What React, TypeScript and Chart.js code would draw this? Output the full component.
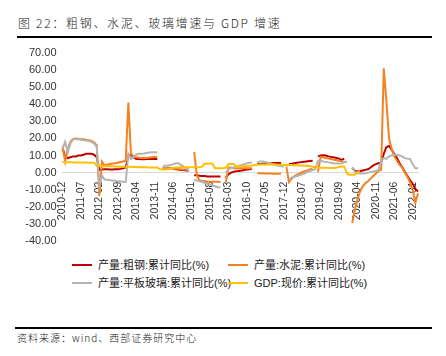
import React, { useEffect, useRef } from 'react';
import { Chart, registerables } from 'chart.js';

Chart.register(...registerables);

// Monthly categories 2010-12 .. 2022-03
const months: string[] = [];
for (let i = 0; i < 136; i++) {
  const y = 2010 + Math.floor((11 + i) / 12);
  const m = ((11 + i) % 12) + 1;
  months.push(`${y}-${String(m).padStart(2, '0')}`);
}
const labelEvery = 7;

const yTicks = [70, 60, 50, 40, 30, 20, 10, 0, -10, -20, -30, -40];

// 产量:粗钢:累计同比(%)
const steel: (number | null)[] = [
  14.5, 9.5, 8.5, 9, 9.5, 9.5, 10, 10, 10.5, 11, 11, 11,
  10.5, 9, 1.5, 1.8, 2, 2, 1.8, 1.8, 2, 2, 2.2, 2.5,
  3, 10, 10.5, 9, 8, 8, 7.8, 7.8, 8, 8, 8, 8,
  8, null, 2.5, 2.2, 2.5, 2.5, 2.5, 2, 1.8, 1.5, 1.5, 1.3,
  1.2, null, -1.5, -1.5, -1.8, -2, -2, -2.2, -2.2, -2.3, -2.3, -2.3,
  -2.3, null, -3, -1, 0, 0.5, 0.8, 1, 1.2, 1.5, 1.8, 2,
  2.2, null, 5, 5, 5.2, 5.5, 5.5, 5.5, 5.6, 5.7, 5.7, 5.7,
  null, null, 5, 5.2, 5.5, 5.8, 6, 6.2, 6.4, 6.6, 6.8, 7,
  null, 9.5, 10, 10.2, 10, 9.5, 9.2, 9, 8.6, 8.2, 7.5, 8.2,
  null, null, 2.8, 1.2, 0.6, 0.8, 1.2, 1.6, 2, 3, 4.2, 5,
  5.5, 6, 11, 15, 15.6, 13.5, 10.8, 8.5, 5.5, 3.2, 0.5, -2,
  -4.5, -6.5, -9.5, -11,
];

// 产量:水泥:累计同比(%)
const cement: (number | null)[] = [
  15.5, 6.5, 14, 18, 19.7, 20, 19.8, 19.5, 19.5, 19.2, 19, 18.5,
  17.8, 16, -13.5, 6.4, 4.2, 4.8, 5, 5.3, 5.5, 5.8, 6.2, 6.5,
  7, 41, 11, 9.5, 9, 8.8, 8.5, 8.5, 8.6, 8.8, 9, 9.2,
  9.3, null, 2.8, 2.6, 2.6, 2.5, 2.4, 2.3, 2.2, 2, 1.9, 1.8,
  1.8, null, 12, -1.5, -4.5, -4.8, -5, -5.2, -5.3, -5.3, -5.4, -5.4,
  -5.5, null, -5.7, 3, 2.8, 2.6, 2.5, 2.5, 2.6, 2.6, 2.5, 2.5,
  2.5, null, -0.3, -0.3, -0.4, -0.5, -0.5, -0.5, -0.6, -0.6, -0.6, -0.5,
  null, 3.5, -5.5, -3.5, -2.2, -1.2, -0.5, 0.2, 0.8, 1.3, 1.8, 2.3,
  null, 0.5, 9, 9, 8.5, 8.3, 8, 7.5, 7.3, 7, 6.6, 6.3,
  6, null, -29.5, -22, -16, -11, -8, -6.2, -5, -3.5, -2, -0.5,
  1, 1.6, 61, 42, 20, 14, 9.5, 7, 4.5, 3, 0, -2.5,
  -6, -10.5, -17.5, -12,
];

// 产量:平板玻璃:累计同比(%)
const glass: (number | null)[] = [
  14, 18, 12, 17, 19.5, 19.5, 19.5, 19.2, 19, 18.8, 18.5, 18,
  17, 15, -7.5, -2, -4, -4.2, -4.4, -4.6, -4.8, -5, -5.2, -5.4,
  -5.5, 11, 8, 9, 10.5, 11, 11, 11.2, 11.5, 11.8, 12, 12,
  12, null, 3, 4.2, 4, 4.5, 5, 5.5, 5.5, 4.5, 3.5, 2.5,
  1, null, -4.5, -4.5, -5, -5.5, -6, -6.5, -7, -7.5, -8, -8.5,
  -8.5, null, 0, 2, 2.5, 3, 3.5, 4, 4.5, 5, 5.5, 5.8,
  6, null, 6, 6.5, 6.5, 6.2, 5.8, 5.4, 5, 4.5, 4, 3.8,
  3.5, null, -4, -3, -2.5, -2, -1.5, -1, -0.5, 0.5, 1, 1.5,
  2, 7, 7, 6.5, 6.3, 6, 5.8, 5.5, 5.3, 5.3, 5.5, 6,
  6.5, null, 3, 0.5, -0.4, -0.5, -0.5, -0.3, 0, 0.3, 0.7, 1,
  1.5, 7, 8.5, 8, 9.5, 10, 10.5, 10.5, 10, 9.5, 8.5, 8.2,
  8, 5, 2.5, 2.5,
];

// GDP:现价:累计同比(%)
const gdp: (number | null)[] = [
  6.2, 6.2, 6.1, 6.1, 6.0, 6.0, 6.0, 5.9, 5.9, 5.9, 5.8, 5.8,
  5.8, 4.0, 3.9, 3.9, 3.8, 3.8, 3.7, 3.7, 3.6, 3.6, 3.5, 3.5,
  3.5, 3.4, 3.4, 3.3, 3.3, 3.2, 3.2, 3.1, 3.1, 3.0, 3.0, 3.0,
  3.0, 2.0, 1.8, 1.8, 2.0, 2.5, 2.8, 3.0, 3.0, 3.1, 3.1, 3.1,
  3.1, 3.2, 3.2, 3.2, 3.3, 3.5, 5.2, 5.4, 5.4, 5.2, 2.6, 2.5,
  2.5, 2.6, 2.8, 5.0, 5.1, 5.0, 3.6, 3.6, 3.7, 3.8, 3.9, 4.0,
  4.2, 4.5, 4.6, 4.7, 4.8, 4.8, 4.8, 4.8, 4.7, 4.7, 4.6, 4.6,
  4.5, 4.5, 4.4, 4.4, 4.3, 4.3, 4.2, 4.2, 4.1, 4.0, 3.8, 3.5,
  3.2, 3.0, 2.9, 2.8, 2.8, 2.7, 2.7, 2.7, 2.8, 3.5, 3.6, 3.6,
  -0.5, -1.2, -1.2, -1.2, 0.2, 0.2, null, null, null, null, null, null,
  null, null, null, null, null, null, null, null, null, null, null, null,
  null, null, null, null,
];

const seriesNames = ['产量:粗钢:累计同比(%)', '产量:水泥:累计同比(%)', '产量:平板玻璃:累计同比(%)', 'GDP:现价:累计同比(%)'];
const seriesColors = ['#C00000', '#F58220', '#B4B4B4', '#FFC000'];

const FONT = '"Liberation Sans", Arial, "Noto Sans CJK SC", sans-serif';
const CJK = '"Noto Sans CJK SC", sans-serif';

// Category labels drawn along the zero-line axis, positioned by the chart's own scales
const xLabelPlugin = {
  id: 'xLabelsAtZero',
  beforeDatasetsDraw(chart: any) {
    const xs = chart.scales.x;
    const ys = chart.scales.y;
    const ctx = chart.ctx;
    const yAnchor = ys.getPixelForValue(0) + 9;
    ctx.save();
    ctx.font = `10.5px ${FONT}`;
    ctx.fillStyle = '#333333';
    ctx.textAlign = 'right';
    ctx.textBaseline = 'middle';
    months.forEach((m, i) => {
      if (i % labelEvery !== 0) return;
      const x = xs.getPixelForValue(i);
      ctx.save();
      ctx.translate(x, yAnchor);
      ctx.rotate(-Math.PI / 2);
      ctx.fillText(m, 0, 0);
      ctx.restore();
    });
    ctx.restore();
  },
};

function ChartBox() {
  const ref = useRef<HTMLCanvasElement | null>(null);
  useEffect(() => {
    if (!ref.current) return;
    const data = [steel, cement, glass, gdp];
    const chart = new Chart(ref.current, {
      type: 'line',
      data: {
        labels: months,
        datasets: data.map((d, i) => ({
          label: seriesNames[i],
          data: d,
          borderColor: seriesColors[i],
          backgroundColor: seriesColors[i],
          borderWidth: 2,
          pointRadius: 0,
          tension: 0,
          spanGaps: false,
          order: 3 - i,
        })),
      },
      options: {
        responsive: false,
        animation: false,
        layout: { padding: { left: 0, right: 28, top: 13, bottom: 14 } },
        plugins: { legend: { display: false }, tooltip: { enabled: false } },
        scales: {
          x: {
            type: 'category',
            position: { y: 0 } as any,
            offset: false,
            grid: { display: false, drawTicks: false },
            border: { display: true, color: '#D9D9D9', width: 1 },
            ticks: { display: false, autoSkip: false },
          },
          y: {
            min: -40,
            max: 70,
            grid: { display: false, drawTicks: false },
            border: { display: false },
            afterFit: (s: any) => { s.width = 62.5; },
            ticks: {
              stepSize: 10,
              padding: 6,
              color: '#333333',
              font: { family: FONT, size: 11 },
              callback: (v: any) => (yTicks.includes(Number(v)) ? Number(v).toFixed(2) : ''),
            },
          },
        },
      },
      plugins: [xLabelPlugin],
    });
    return () => chart.destroy();
  }, []);
  return (
    <canvas ref={ref} width={446} height={215}
      style={{ position: 'absolute', left: 0, top: 40, width: 446, height: 215 }} />
  );
}

function LegendItem({ idx, left, top }: { idx: number; left: number; top: number }) {
  return (
    <div style={{ position: 'absolute', left, top, height: 14, display: 'flex', alignItems: 'center', whiteSpace: 'nowrap' }}>
      <span style={{ display: 'inline-block', width: 20, height: 2, background: seriesColors[idx], marginRight: 6 }} />
      <span style={{ fontFamily: FONT, fontSize: 11, color: '#222', lineHeight: '14px' }}>{seriesNames[idx]}</span>
    </div>
  );
}

export default function App() {
  return (
    <div style={{ position: 'fixed', left: 0, top: 0, width: 446, height: 356, background: '#fff', overflow: 'hidden' }}>
      <div style={{ position: 'absolute', left: 18, top: 16, fontFamily: CJK, fontSize: 12, fontWeight: 300, letterSpacing: 1.7, lineHeight: '14px', color: '#222', whiteSpace: 'nowrap' }}>
        图 22：粗钢、水泥、玻璃增速与 GDP 增速
      </div>
      <div style={{ position: 'absolute', left: 17, top: 36, width: 415, height: 1.5, background: '#000' }} />
      <ChartBox />
      <LegendItem idx={0} left={72} top={258} />
      <LegendItem idx={1} left={228} top={258} />
      <LegendItem idx={2} left={72} top={276} />
      <LegendItem idx={3} left={228} top={276} />
      <div style={{ position: 'absolute', left: 15, top: 327, width: 417, height: 1.5, background: '#000' }} />
      <div style={{ position: 'absolute', left: 17, top: 332, fontFamily: CJK, fontSize: 10, fontWeight: 300, letterSpacing: 1, lineHeight: '12px', color: '#222', whiteSpace: 'nowrap' }}>
        资料来源：wind、西部证券研究中心
      </div>
    </div>
  );
}
